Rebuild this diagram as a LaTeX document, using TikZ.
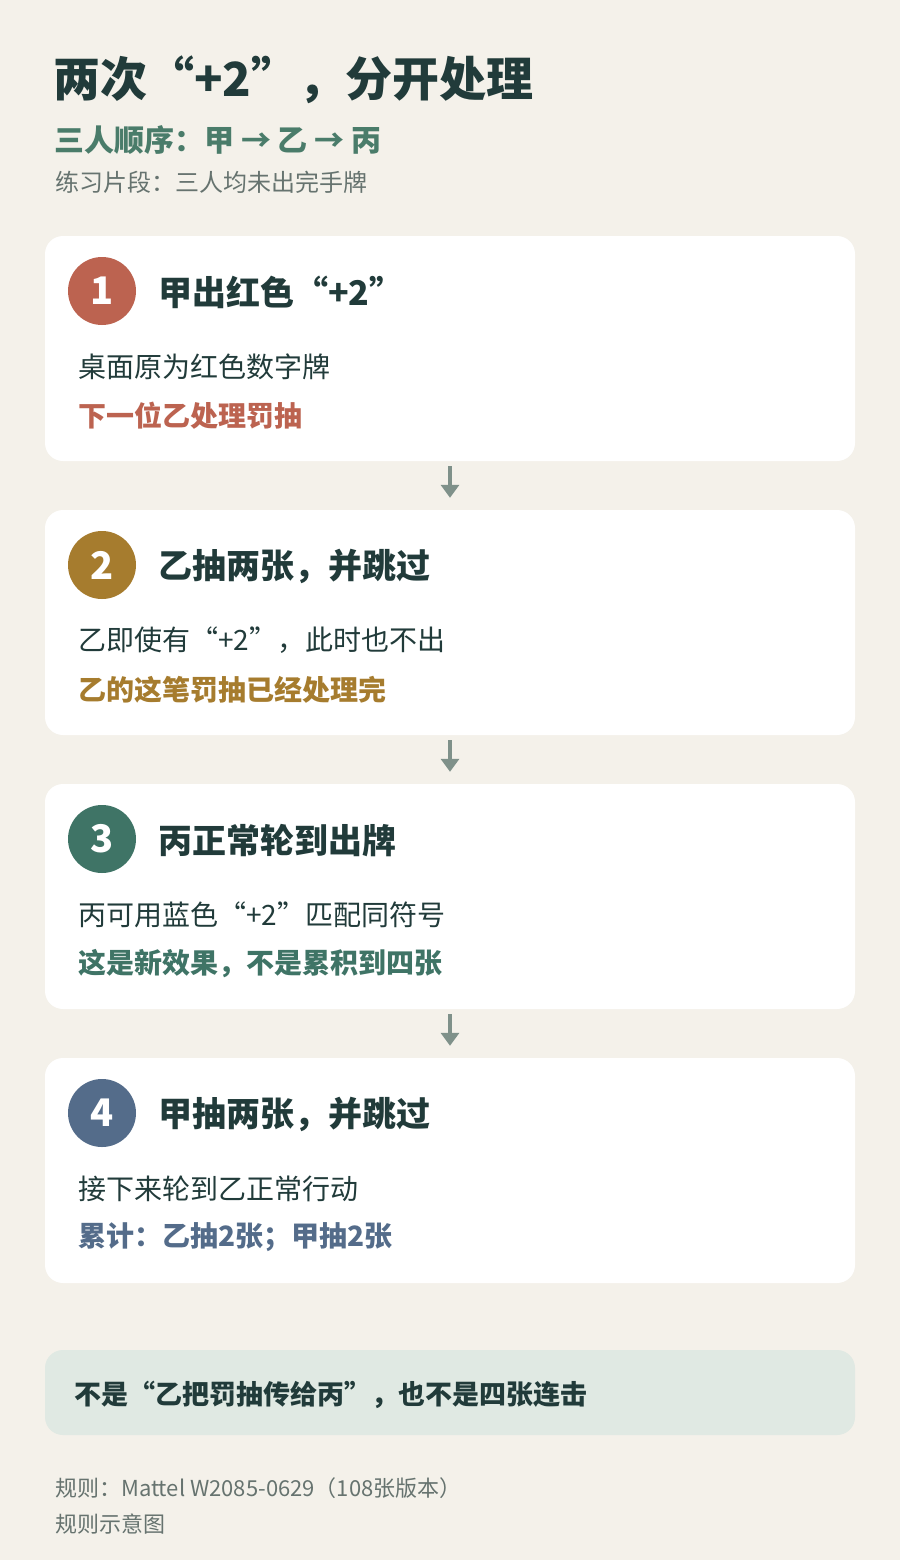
\documentclass[tikz,border=0pt]{standalone}
\usepackage{fontspec}
\setmainfont{Noto Sans CJK SC}
\usetikzlibrary{arrows.meta}
\definecolor{bg}{HTML}{F4F1EA}
\definecolor{ink}{HTML}{213B3A}
\definecolor{sub}{HTML}{4A7C6A}
\definecolor{muted}{HTML}{66736F}
\definecolor{cred}{HTML}{BC6350}
\definecolor{cgold}{HTML}{A67C2E}
\definecolor{cgreen}{HTML}{3F7466}
\definecolor{cblue}{HTML}{546C8A}
\definecolor{flowc}{HTML}{7F918A}
\definecolor{notebg}{HTML}{E0E9E3}
\begin{document}
\begin{tikzpicture}[x=1pt,y=-1pt,
  card/.style={fill=white,rounded corners=18pt,minimum width=810pt,minimum height=225pt,inner sep=0},
  badge/.style={circle,minimum size=68pt,inner sep=0,text=white,font=\fontsize{38}{44}\selectfont\bfseries},
  headtxt/.style={anchor=west,inner sep=0,text=ink,font=\fontsize{34}{40}\selectfont\bfseries},
  bodytxt/.style={anchor=west,inner sep=0,text=ink,font=\fontsize{28}{32}\selectfont},
  hltxt/.style={anchor=west,inner sep=0,font=\fontsize{28}{32}\selectfont\bfseries},
  flow/.style={draw=flowc,line width=4.5pt,-{Triangle[width=18pt,length=13pt]},shorten <=5pt,shorten >=12pt}]
\fill[bg] (0,0) rectangle (900,1560);
\useasboundingbox (0,0) rectangle (900,1560);

% heading
\node[anchor=west,inner sep=0,text=ink,font=\fontsize{47}{54}\selectfont\bfseries] (title) at (53,80) {两次“+2”，分开处理};
\node[anchor=west,inner sep=0,text=sub,font=\fontsize{30}{34}\selectfont\bfseries] (order) at (54,140.5) {三人顺序：甲 → 乙 → 丙};
\node[anchor=west,inner sep=0,text=muted,font=\fontsize{24}{28}\selectfont] (scene) at (55,182) {练习片段：三人均未出完手牌};

% steps
\foreach \i/\col/\head/\body/\hl in {
  1/cred/{甲出红色“+2”}/{桌面原为红色数字牌}/{下一位乙处理罚抽},
  2/cgold/{乙抽两张，并跳过}/{乙即使有“+2”，此时也不出}/{乙的这笔罚抽已经处理完},
  3/cgreen/{丙正常轮到出牌}/{丙可用蓝色“+2”匹配同符号}/{这是新效果，不是累积到四张},
  4/cblue/{甲抽两张，并跳过}/{接下来轮到乙正常行动}/{累计：乙抽2张；甲抽2张}}{
  \pgfmathsetmacro\ty{236+274*(\i-1)}
  \node[card] (card\i) at (450,\ty+112.5) {};
  \node[badge,fill=\col] (badge\i) at (102,\ty+55) {\i};
  \node[headtxt] (head\i) at (158,\ty+56.5) {\head};
  \node[bodytxt] (body\i) at (78,\ty+130.5) {\body};
  \node[hltxt,text=\col] (hl\i) at (78,\ty+179.5) {\hl};
}
\foreach \i [evaluate=\i as \j using int(\i+1)] in {1,2,3}
  \draw[flow] (card\i.south) -- (card\j.north);

% note and footer
\node[fill=notebg,rounded corners=18pt,minimum width=810pt,minimum height=85pt,inner sep=0] (notebox) at (450,1392.5) {};
\node[anchor=west,inner sep=0,text=ink,font=\fontsize{27}{32}\selectfont\bfseries] (notetxt) at (74,1395) {不是“乙把罚抽传给丙”，也不是四张连击};
\node[anchor=west,inner sep=0,text=muted,font=\fontsize{22}{26}\selectfont] (rule) at (55,1488) {规则：Mattel W2085-0629（108张版本）};
\node[anchor=west,inner sep=0,text=muted,font=\fontsize{22}{26}\selectfont] (kind) at (55,1524) {规则示意图};
\end{tikzpicture}
\end{document}
